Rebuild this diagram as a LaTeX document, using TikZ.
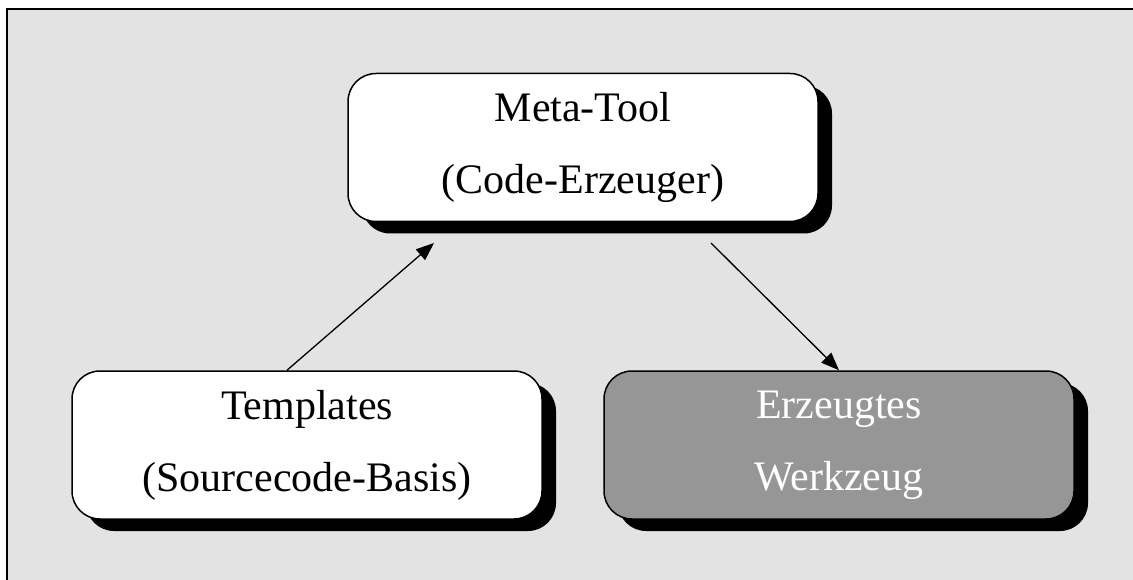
\documentclass[tikz,border=0pt]{standalone}
\usepackage{fontspec}
\setmainfont{Liberation Serif}
\usetikzlibrary{arrows.meta,shadows}
\definecolor{hintergrund}{HTML}{E3E3E3}
\definecolor{boxgrau}{HTML}{969696}
\tikzset{
	kasten/.style={draw=black,line width=1.5pt,rounded corners=28pt,fill=white,
		minimum width=470pt,minimum height=148pt,align=center,
		font=\fontsize{42}{72}\selectfont,
		drop shadow={shadow xshift=14pt,shadow yshift=-12pt,fill=black,opacity=1}},
	pfeil/.style={line width=1.3pt,-{Triangle[length=18pt,width=14pt]}}
}
\begin{document}
\begin{tikzpicture}[x=1pt,y=-1pt]
	\useasboundingbox (0,0) rectangle (1133,580);
	\fill[hintergrund] (7,9) rectangle (1133,580);
	\draw[line width=2pt] (7,580) -- (7,9) -- (1133,9);
	% Kaesten
	\node[kasten] (meta) at (583,147.5) {Meta-Tool\\(Code-Erzeuger)};
	\node[kasten] (tmpl) at (307,445) {Templates\\(Sourcecode-Basis)};
	\node[kasten,fill=boxgrau,text=white] (werk) at (839,445) {Erzeugtes\\Werkzeug};
	% Pfeile
	\coordinate (p1) at (434,243);
	\coordinate (p2) at (711,243);
	\draw[pfeil] ([xshift=-20pt]tmpl.north) -- (p1);
	\draw[pfeil] (p2) -- (werk.north);
\end{tikzpicture}
\end{document}
